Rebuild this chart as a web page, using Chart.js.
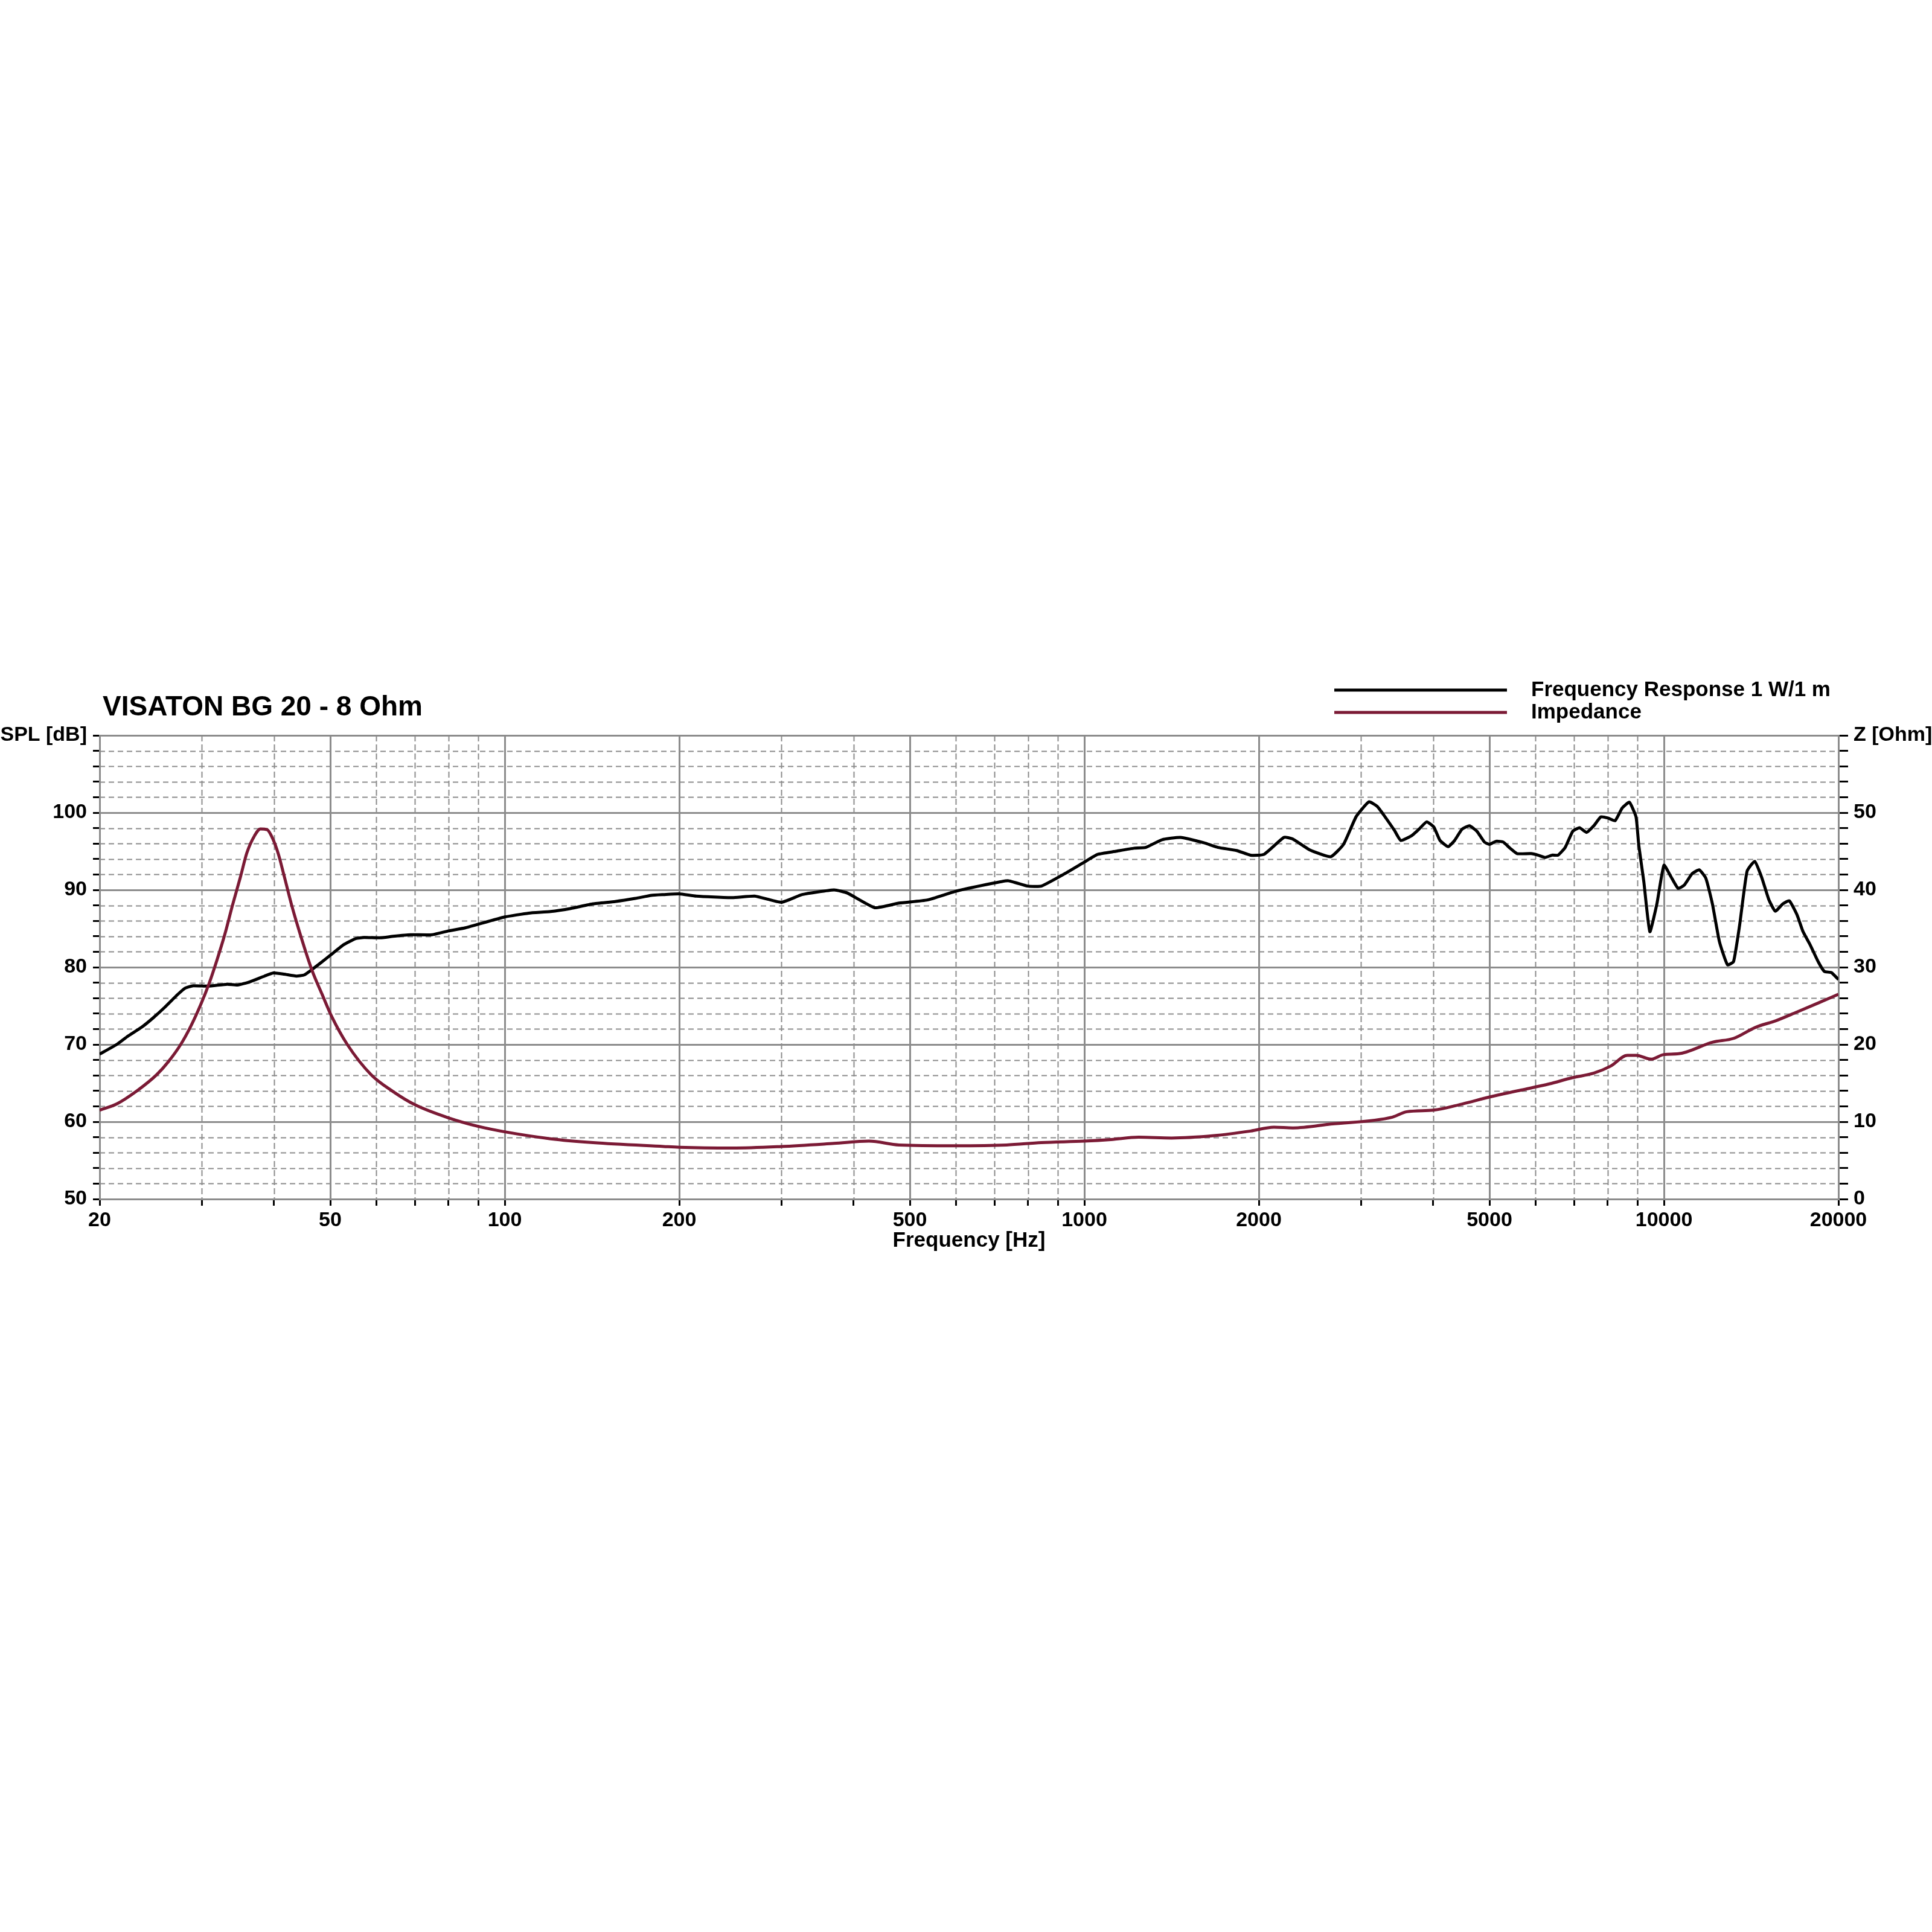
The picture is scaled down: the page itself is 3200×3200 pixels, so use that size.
<!DOCTYPE html>
<html>
<head>
<meta charset="utf-8">
<script src="https://cdn.jsdelivr.net/npm/chart.js@4.4.1/dist/chart.umd.min.js"></script>
<style>
  html, body { margin: 0; padding: 0; background: #ffffff; }
  canvas { display: block; }
</style>
</head>
<body>
<canvas id="c" width="3200" height="3200"></canvas>
<script>
// ---------------- DATA ----------------
const chartTitle = 'VISATON BG 20 - 8 Ohm';
const splLabel = 'Frequency Response 1 W/1 m';
const impLabel = 'Impedance';
const xTitle = 'Frequency [Hz]';
const leftUnit = 'SPL [dB]';
const rightUnit = 'Z [Ohm]';

const majorFreqs = [20, 50, 100, 200, 500, 1000, 2000, 5000, 10000, 20000];
const minorFreqs = [30, 40, 60, 70, 80, 90, 300, 400, 600, 700, 800, 900,
                    3000, 4000, 6000, 7000, 8000, 9000];

const splFreq = [20, 21.4, 22.3, 23.6, 24.7, 25.9, 27.3, 28.1, 29.0, 30.8, 33.2, 34.6, 36.3, 38.5, 39.9,
  41.6, 43.7, 45.1, 46.5, 48.4, 50.3, 52.7, 55.3, 57.2, 61.0, 64.2, 68.8, 74.9, 80, 85.5, 100, 110, 120, 130,
  142, 155, 168, 179, 188, 200, 214, 247, 270, 300, 326, 370, 390, 435, 479, 536, 598, 678, 738, 798, 843,
  925, 1000, 1054, 1133, 1219, 1276, 1362, 1465, 1608, 1701, 1831, 1936, 2041, 2210, 2287, 2446, 2661,
  2800, 2945, 3098, 3203, 3285, 3428, 3515, 3667, 3772, 3895, 4008, 4108, 4245, 4353, 4483, 4617, 4756,
  4900, 5000, 5136, 5279, 5426, 5580, 5897, 6063, 6235, 6413, 6566, 6755, 6962, 7151, 7356, 7567, 7784,
  8007, 8236, 8472, 8715, 8950, 9048, 9231, 9455, 9724, 10000, 10284, 10577, 10834, 11186, 11504, 11813,
  12122, 12467, 12873, 13187, 13505, 13911, 14341, 14749, 15169, 15564, 16042, 16456, 16964, 17377, 17873,
  18459, 18914, 19458, 20000];
const splVal = [68.75, 70.0, 71.0, 72.2, 73.4, 74.8, 76.5, 77.3, 77.6, 77.55, 77.8, 77.7, 78.1, 78.85, 79.25,
  79.1, 78.85, 79.0, 79.7, 80.7, 81.7, 82.9, 83.7, 83.85, 83.8, 84.0, 84.2, 84.2, 84.7, 85.1, 86.5, 87.0, 87.2, 87.6,
  88.2, 88.5, 88.9, 89.3, 89.4, 89.5, 89.2, 89.0, 89.2, 88.4, 89.4, 90.0, 89.6, 87.7, 88.3, 88.7, 89.8, 90.7, 91.2, 90.5, 90.5,
  92.1, 93.6, 94.6, 95.0, 95.4, 95.5, 96.5, 96.8, 96.1, 95.5, 95.1, 94.5, 94.6, 96.8, 96.6, 95.2, 94.3,
  95.9, 99.5, 101.4, 100.8, 99.7, 97.7, 96.4, 97.0, 97.8, 98.8, 98.15, 96.4, 95.6, 96.4, 97.85, 98.3, 97.6,
  96.2, 95.9, 96.3, 96.2, 95.4, 94.7, 94.7, 94.5, 94.2, 94.5, 94.5, 95.5, 97.6, 98.05, 97.45, 98.3, 99.45,
  99.3, 98.95, 100.6, 101.35, 99.45, 95.8, 91.1, 84.6, 88.2, 93.2, 91.7, 90.2, 90.6, 92.1, 92.6, 91.5,
  88.2, 83.3, 80.3, 80.75, 85.4, 92.4, 93.7, 91.6, 88.75, 87.25, 88.2, 88.6, 86.8, 84.6, 82.9,
  80.7, 79.45, 79.3, 78.4];

const impFreq = [20, 21.4, 23.2, 25.1, 26.3, 27.6, 28.7, 29.9, 30.9, 31.9, 32.9, 33.9, 35.0, 35.9, 37.0, 37.9, 38.9, 39.8,
  40.7, 41.6, 42.9, 44.7, 46.5, 48.4, 50.3, 53.5, 58.8, 64.2, 70, 80, 90, 100, 120, 142, 188, 200, 247, 300,
  370, 425, 479, 598, 734, 843, 1000, 1111, 1241, 1414, 1672, 1936, 2124, 2290, 2661, 3400, 3600, 4000, 4488,
  5000, 5670, 6340, 6950, 7570, 8090, 8650, 8960, 9500, 10000, 10600, 12140, 13200, 14370, 15630, 16960, 18500, 20000];
const impVal = [11.5, 12.3, 14.0, 16.1, 17.8, 20.0, 22.3, 25.2, 27.9, 31.0, 34.3, 38.0, 41.7, 44.8, 47.0, 47.9, 47.8, 46.6,
  44.6, 41.9, 38.0, 33.5, 29.6, 26.5, 23.6, 20.0, 16.1, 13.9, 12.2, 10.5, 9.4, 8.7, 7.8, 7.3, 6.8, 6.7, 6.6, 6.8,
  7.2, 7.5, 7.0, 6.9, 7.0, 7.3, 7.5, 7.7, 8.0, 7.9, 8.2, 8.8, 9.3, 9.2, 9.7, 10.6, 11.3, 11.5, 12.3,
  13.2, 14.1, 14.9, 15.7, 16.3, 17.2, 18.6, 18.6, 18.1, 18.7, 18.8, 20.3, 20.8, 22.2, 23.1, 24.2, 25.4, 26.5];

// ---------------- STYLE ----------------
const FONT = '"Liberation Sans", Arial, Helvetica, sans-serif';
const GRID = '#8c8c8c';
const SPL_COLOR = '#000000';
const IMP_COLOR = '#7b1a35';

const gridFreqs = majorFreqs.concat(minorFreqs).sort((a, b) => a - b);

const gridPlugin = {
  id: 'gridPlugin',
  beforeDraw(chart) {
    const ctx = chart.ctx;
    ctx.save();
    ctx.fillStyle = '#ffffff';
    ctx.fillRect(0, 0, chart.width, chart.height);
    const a = chart.chartArea;
    const xs = chart.scales.x, ys = chart.scales.y;
    ctx.strokeStyle = GRID;
    for (let v = ys.min; v <= ys.max + 1e-6; v += 2) {
      const y = Math.round(ys.getPixelForValue(v)) + 0.5;
      const major = Math.abs(v % 10) < 1e-6;
      ctx.lineWidth = major ? 3 : 2;
      ctx.setLineDash(major ? [] : [9, 6]);
      ctx.beginPath(); ctx.moveTo(a.left, y); ctx.lineTo(a.right, y); ctx.stroke();
    }
    gridFreqs.forEach(f => {
      const x = Math.round(xs.getPixelForValue(f)) + 0.5;
      const major = majorFreqs.includes(f);
      ctx.lineWidth = major ? 3 : 2;
      ctx.setLineDash(major ? [] : [10, 5]);
      ctx.beginPath(); ctx.moveTo(x, a.top); ctx.lineTo(x, a.bottom); ctx.stroke();
    });
    ctx.restore();
  }
};

const headerPlugin = {
  id: 'headerPlugin',
  afterDraw(chart) {
    const ctx = chart.ctx;
    ctx.save();
    ctx.fillStyle = '#000';
    ctx.textAlign = 'left';
    ctx.textBaseline = 'alphabetic';
    ctx.font = 'bold 46px ' + FONT;
    ctx.fillText(chartTitle, 170, 1185);
    const rows = [1143, 1180];
    const baselines = [1153, 1190];
    chart.data.datasets.forEach((ds, i) => {
      ctx.strokeStyle = ds.borderColor;
      ctx.lineWidth = 5;
      ctx.setLineDash([]);
      ctx.beginPath(); ctx.moveTo(2210, rows[i]); ctx.lineTo(2496, rows[i]); ctx.stroke();
      ctx.font = 'bold 35px ' + FONT;
      ctx.fillStyle = '#000';
      ctx.fillText(ds.label, 2536, baselines[i]);
    });
    ctx.restore();
  }
};

const toPoints = (fs, vs) => fs.map((f, i) => ({ x: f, y: vs[i] }));
const tickFont = { family: FONT, size: 34, weight: 'bold' };

new Chart(document.getElementById('c'), {
  type: 'line',
  data: {
    datasets: [
      { label: splLabel, data: toPoints(splFreq, splVal), yAxisID: 'y',
        borderColor: SPL_COLOR, borderWidth: 5, pointRadius: 0, tension: 0.15, borderJoinStyle: 'round', order: 1 },
      { label: impLabel, data: toPoints(impFreq, impVal), yAxisID: 'y2',
        borderColor: IMP_COLOR, borderWidth: 5, pointRadius: 0, cubicInterpolationMode: 'monotone', order: 0 }
    ]
  },
  options: {
    responsive: false,
    devicePixelRatio: 1,
    animation: false,
    layout: { padding: { top: 1218, bottom: 1124, left: 0, right: 0 } },
    plugins: { legend: { display: false }, title: { display: false }, tooltip: { enabled: false } },
    scales: {
      x: {
        type: 'logarithmic', min: 20, max: 20000, position: 'bottom',
        afterBuildTicks: s => { s.ticks = gridFreqs.map(v => ({ value: v })); },
        afterFit: s => { s.height = 90; },
        ticks: { autoSkip: false, maxRotation: 0, minRotation: 0, padding: 4, color: '#000', font: tickFont,
                 callback: v => majorFreqs.includes(v) ? String(v) : '' },
        grid: { display: true, drawOnChartArea: false, drawTicks: true, tickLength: 11, tickColor: '#000', tickWidth: 3 },
        border: { display: true, color: GRID, width: 3 },
        title: { display: true, text: xTitle, color: '#000', font: { family: FONT, size: 35, weight: 'bold' }, padding: 0 }
      },
      y: {
        type: 'linear', min: 50, max: 110, position: 'left',
        afterBuildTicks: s => { const t = []; for (let v = 50; v <= 110; v += 2) t.push({ value: v }); s.ticks = t; },
        afterFit: s => { s.width = 165; },
        ticks: { autoSkip: false, padding: 10, color: '#000', font: tickFont,
                 callback: v => v === 110 ? leftUnit : (v % 10 === 0 ? String(v) : '') },
        grid: { display: true, drawOnChartArea: false, drawTicks: true, tickLength: 11, tickColor: '#000', tickWidth: 3 },
        border: { display: true, color: GRID, width: 3 }
      },
      y2: {
        type: 'linear', min: 0, max: 60, position: 'right',
        afterBuildTicks: s => { const t = []; for (let v = 0; v <= 60; v += 2) t.push({ value: v }); s.ticks = t; },
        afterFit: s => { s.width = 155; },
        ticks: { autoSkip: false, padding: 9, color: '#000', font: tickFont,
                 callback: v => v === 60 ? rightUnit : (v % 10 === 0 ? String(v) : '') },
        grid: { display: true, drawOnChartArea: false, drawTicks: true, tickLength: 16, tickColor: '#000', tickWidth: 3 },
        border: { display: true, color: GRID, width: 3 }
      }
    }
  },
  plugins: [gridPlugin, headerPlugin]
});
</script>
</body>
</html>
